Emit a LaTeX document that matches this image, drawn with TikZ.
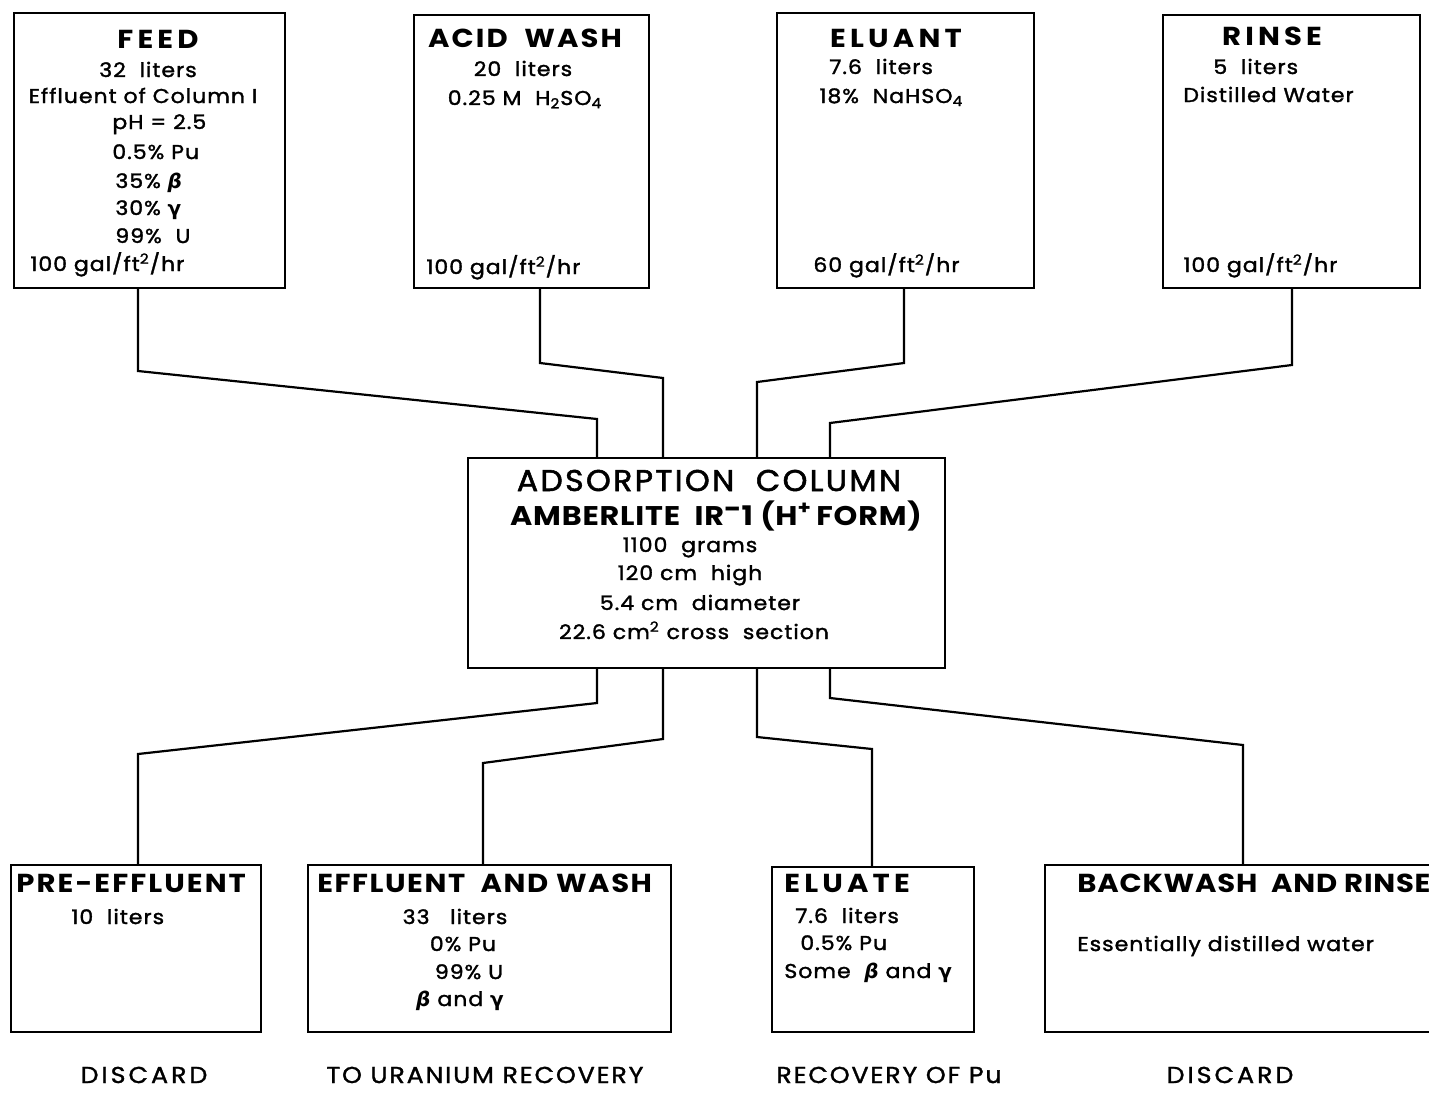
\documentclass[tikz,border=0pt]{standalone}
\usepackage{fontspec}
\setmainfont{Poppins}
\newfontfamily\bodyf{Poppins}[FakeStretch=1.1, FakeBold=1.6, LetterSpace=5]
\newfontfamily\ttlf{Poppins}[FakeStretch=1.12, LetterSpace=8]
\newfontfamily\colf{Poppins}[FakeStretch=1.05, FakeBold=1.8, LetterSpace=8]
\newfontfamily\footf{Poppins}[FakeStretch=1.1, FakeBold=1.4, LetterSpace=8]
\newfontfamily\grk{DejaVu Sans}
\newcommand{\gbet}{{\grk\bfseries\itshape β}}
\newcommand{\ggam}{{\grk\bfseries γ}}
\tikzset{
  box/.style={draw, line width=1.1pt, anchor=north west, inner sep=0pt},
  openbox/.style={anchor=north west, inner sep=0pt},
  wire/.style={line width=1.1pt, line join=miter},
  body/.style={inner sep=0pt, font=\bodyf\fontsize{10}{12}\selectfont},
  ttl/.style={inner sep=0pt, font=\ttlf\fontsize{13}{15}\selectfont\bfseries},
  wide/.style={inner sep=0pt, font=\ttlf\fontsize{13}{15}\selectfont\bfseries\addfontfeature{LetterSpace=16}},
  bigttl/.style={inner sep=0pt, font=\colf\fontsize{15}{17}\selectfont},
  midttl/.style={inner sep=0pt, font=\ttlf\fontsize{13.5}{15}\selectfont\bfseries\addfontfeature{LetterSpace=3}},
  foot/.style={inner sep=0pt, font=\footf\fontsize{11.5}{13}\selectfont},
}
\begin{document}
\begin{tikzpicture}[x=0.5pt,y=-0.5pt]
\useasboundingbox (0,0) rectangle (1429,1092);
\fill[white] (0,0) rectangle (1429,1092);

% ---- boxes
\node[box, minimum width=135.5pt, minimum height=137.5pt] (feed) at (13,12) {};
\node[box, minimum width=117.5pt, minimum height=136.5pt] (acid) at (413,14) {};
\node[box, minimum width=128.5pt, minimum height=137.5pt] (elu) at (776,12) {};
\node[box, minimum width=128.5pt, minimum height=136.5pt] (rinse) at (1162,14) {};
\node[box, minimum width=238.5pt, minimum height=105pt] (col) at (467,457) {};
\node[box, minimum width=125pt, minimum height=83.5pt] (pre) at (10,864) {};
\node[box, minimum width=181.5pt, minimum height=83.5pt] (eff) at (307,864) {};
\node[box, minimum width=101pt, minimum height=82.5pt] (eluate) at (771,866) {};
\node[openbox, minimum width=192pt, minimum height=83pt] (back) at (1045,865) {};
\draw[wire] (back.north east) -- (back.north west) -- (back.south west) -- (back.south east);

% ---- bend points
\coordinate (fa) at (138,371); \coordinate (fb) at (597,419);
\coordinate (aa) at (540,363); \coordinate (ab) at (663,378);
\coordinate (ea) at (904,363); \coordinate (eb) at (757,382);
\coordinate (ra) at (1292,365); \coordinate (rb) at (830,423);
\coordinate (pa) at (597,703); \coordinate (pb) at (138,754);
\coordinate (wa) at (663,739); \coordinate (wb) at (483,763);
\coordinate (la) at (757,737); \coordinate (lb) at (872,749);
\coordinate (ba) at (830,698); \coordinate (bb) at (1243,745);

% ---- connectors in
\draw[wire] (feed.south -| fa) -- (fa) -- (fb) -- (col.north -| fb);
\draw[wire] (acid.south -| aa) -- (aa) -- (ab) -- (col.north -| ab);
\draw[wire] (elu.south -| ea) -- (ea) -- (eb) -- (col.north -| eb);
\draw[wire] (rinse.south -| ra) -- (ra) -- (rb) -- (col.north -| rb);
% ---- connectors out
\draw[wire] (col.south -| pa) -- (pa) -- (pb) -- (pre.north -| pb);
\draw[wire] (col.south -| wa) -- (wa) -- (wb) -- (eff.north -| wb);
\draw[wire] (col.south -| la) -- (la) -- (lb) -- (eluate.north -| lb);
\draw[wire] (col.south -| ba) -- (ba) -- (bb) -- (back.north -| bb);

% ---- FEED text
\node[wide, anchor=base] (f0) at (158,48) {FEED};
\node[body, anchor=base] (f1) at (148,77) {32\ \ liters};
\node[body, anchor=base] (f2) at (143,103) {Effluent of Column I};
\node[body, anchor=base west] (f3) at (112,129) {pH = 2.5};
\node[body, anchor=base west] (f4) at (112,159) {0.5\% Pu};
\node[body, anchor=base west] (f5) at (115,188) {35\% \gbet};
\node[body, anchor=base west] (f6) at (115,215) {30\% \ggam};
\node[body, anchor=base west] (f7) at (115,243) {99\%\ \ U};
\node[body, anchor=base west] (f8) at (30,271) {100 gal/ft\textsuperscript{2}/hr};

% ---- ACID WASH text
\node[ttl, anchor=base] (a0) at (525,47) {ACID\ \ WASH};
\node[body, anchor=base] (a1) at (523,76) {20\ \ liters};
\node[body, anchor=base] (a2) at (525,105) {0.25 M\ \ H\textsubscript{2}SO\textsubscript{4}};
\node[body, anchor=base west] (a3) at (426,274) {100 gal/ft\textsuperscript{2}/hr};

% ---- ELUANT text
\node[wide, anchor=base] (e0) at (896,47) {ELUANT};
\node[body, anchor=base west] (e1) at (829,74) {7.6\ \ liters};
\node[body, anchor=base west] (e2) at (819,103) {18\%\ \ NaHSO\textsubscript{4}};
\node[body, anchor=base west] (e3) at (813,272) {60 gal/ft\textsuperscript{2}/hr};

% ---- RINSE text
\node[wide, anchor=base] (r0) at (1272,46) {RINSE};
\node[body, anchor=base west] (r1) at (1213,74) {5\ \ liters};
\node[body, anchor=base west] (r2) at (1183,102) {Distilled Water};
\node[body, anchor=base west] (r3) at (1183,272) {100 gal/ft\textsuperscript{2}/hr};

% ---- COLUMN text
\node[bigttl, anchor=base] (c0) at (709,491) {ADSORPTION\ \ COLUMN};
\node[midttl, anchor=base] (c1) at (716,525) {AMBERLITE\ \ IR\raisebox{0.45ex}{-}1\ (H\textsuperscript{+}\,FORM)};
\node[body, anchor=base] (c2) at (690,552) {1100\ \ grams};
\node[body, anchor=base] (c3) at (690,580) {120 cm\ \ high};
\node[body, anchor=base] (c4) at (700,610) {5.4 cm\ \ diameter};
\node[body, anchor=base] (c5) at (694,639) {22.6 cm\textsuperscript{2} cross\ \ section};

% ---- bottom box text
\node[ttl, anchor=base west] (p0) at (16,892) {PRE-EFFLUENT};
\node[body, anchor=base west] (p1) at (71,924) {10\ \ liters};

\node[ttl, anchor=base west, font=\ttlf\fontsize{13}{15}\selectfont\bfseries\addfontfeature{LetterSpace=6}] (w0) at (317,892) {EFFLUENT\ \ AND WASH};
\node[body, anchor=base] (w1) at (455,924) {33\ \ \ liters};
\node[body, anchor=base] (w2) at (463,951) {0\% Pu};
\node[body, anchor=base] (w3) at (469,979) {99\% U};
\node[body, anchor=base] (w4) at (460,1006) {\gbet\ and \ggam};

\node[wide, anchor=base west] (l0) at (784,892) {ELUATE};
\node[body, anchor=base west] (l1) at (795,923) {7.6\ \ liters};
\node[body, anchor=base west] (l2) at (800,950) {0.5\% Pu};
\node[body, anchor=base west] (l3) at (784,978) {Some\ \ \gbet\ and \ggam};

\node[ttl, anchor=base west, font=\ttlf\fontsize{13}{15}\selectfont\bfseries\addfontfeature{LetterSpace=3}] (b0) at (1077,892) {BACKWASH\ \ AND RINSE};
\node[body, anchor=base west] (b1) at (1077,951) {Essentially distilled water};

% ---- destinations
\node[foot, anchor=base, font=\footf\fontsize{11.5}{13}\selectfont\addfontfeature{LetterSpace=13}] (d1) at (144,1083) {DISCARD};
\node[foot, anchor=base] (d2) at (485,1083) {TO URANIUM RECOVERY};
\node[foot, anchor=base] (d3) at (889,1083) {RECOVERY OF Pu};
\node[foot, anchor=base, font=\footf\fontsize{11.5}{13}\selectfont\addfontfeature{LetterSpace=13}] (d4) at (1230,1083) {DISCARD};
\end{tikzpicture}
\end{document}
